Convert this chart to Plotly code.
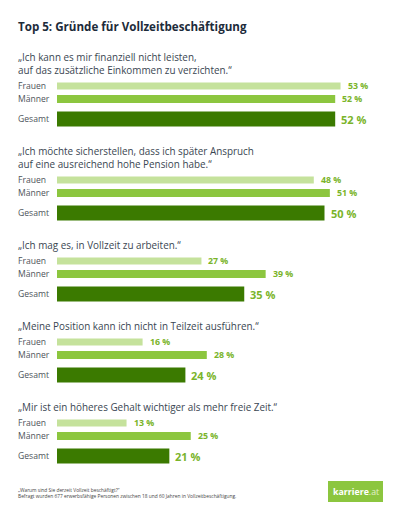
import plotly.graph_objects as go

# ---- data ----
questions = [
    "„Ich kann es mir finanziell nicht leisten,<br>auf das zusätzliche Einkommen zu verzichten.“",
    "„Ich möchte sicherstellen, dass ich später Anspruch<br>auf eine ausreichend hohe Pension habe.“",
    "„Ich mag es, in Vollzeit zu arbeiten.“",
    "„Meine Position kann ich nicht in Teilzeit ausführen.“",
    "„Mir ist ein höheres Gehalt wichtiger als mehr freie Zeit.“",
]
frauen = [53, 48, 27, 16, 13]
maenner = [52, 51, 39, 28, 25]
gesamt = [52, 50, 35, 24, 21]
series_names = ["Frauen", "Männer", "Gesamt"]
title = "Top 5: Gründe für Vollzeitbeschäftigung"
footer = ("„Warum sind Sie derzeit Vollzeit beschäftigt?“<br>"
          "Befragt wurden 677 erwerbsfähige Personen zwischen 18 und 60 Jahren in Vollzeitbeschäftigung.")

# ---- layout computation (pixel-based y axis) ----
W, H = 393, 512
FONT = "Open Sans"
c_f, c_m, c_g = "#c5e29c", "#8cc63f", "#3b7a00"
c_val = "#7ab42a"

title_y = []
yf, ym, yg = [], [], []
y = 56
for q in questions:
    n = q.count("<br>") + 1
    title_y.append(y)
    last = y + 13 * (n - 1)
    f = last + 17
    yf.append(f)
    ym.append(f + 13)
    yg.append(f + 33)
    y = f + 33 + 31

# x scale: 0 -> 57px, ~5.35 px per %
px_per = 5.35
x0 = -57 / px_per
x1 = x0 + W / px_per

fig = go.Figure()
for vals, ys, col, w in [(frauen, yf, c_f, 7), (maenner, ym, c_m, 8), (gesamt, yg, c_g, 15)]:
    fig.add_trace(go.Bar(
        x=vals, y=ys, orientation="h", marker=dict(color=col, line=dict(width=0)),
        width=w, hoverinfo="skip", showlegend=False,
    ))

ann = []
ann.append(dict(text=f"<b>{title}</b>", x=16 / W, y=26, xref="paper", yref="y",
                xanchor="left", yanchor="middle", showarrow=False,
                font=dict(family=FONT, size=11.6, color="#1d2b3a")))
for i, q in enumerate(questions):
    ann.append(dict(text=q, x=16 / W, y=title_y[i] - 8.5, xref="paper", yref="y",
                    xanchor="left", yanchor="top", showarrow=False, align="left",
                    font=dict(family=FONT, size=9.9, color="#3a4652")))
    for k, (ys, vals, fs, bold) in enumerate([(yf, frauen, 8.8, False),
                                              (ym, maenner, 8.8, False),
                                              (yg, gesamt, 11, True)]):
        ann.append(dict(text=series_names[k],
                        x=16 / W, y=ys[i], xref="paper", yref="y",
                        xanchor="left", yanchor="middle", showarrow=False,
                        font=dict(family=FONT, size=8.6, color="#4d5359")))
        ann.append(dict(text=f"<b>{vals[i]} %</b>", x=vals[i], y=ys[i], xref="x", yref="y",
                        xanchor="left", yanchor="middle", showarrow=False,
                        xshift=5 if not bold else 4,
                        font=dict(family=FONT, size=fs, color=c_val)))

ann.append(dict(text=footer, x=16 / W, y=493, xref="paper", yref="y",
                xanchor="left", yanchor="middle", showarrow=False, align="left",
                font=dict(family=FONT, size=4.85, color="#444")))
ann.append(dict(text="<b>karriere</b><span style='color:#e3f1cc'>.at</span>",
                x=355.5 / W, y=491.5, xref="paper", yref="y",
                xanchor="center", yanchor="middle", showarrow=False,
                font=dict(family=FONT, size=8.8, color="white")))

fig.update_layout(
    width=W, height=H, margin=dict(l=0, r=0, t=0, b=0),
    paper_bgcolor="white", plot_bgcolor="white",
    xaxis=dict(range=[x0, x1], visible=False, fixedrange=True),
    yaxis=dict(range=[H, 0], visible=False, fixedrange=True),
    barmode="overlay", annotations=ann,
    shapes=[dict(type="rect", xref="paper", yref="y", x0=328 / W, x1=383 / W,
                 y0=481, y1=502, fillcolor="#8cc63f", line=dict(width=0), layer="below")],
)
fig.write_html("out.html", config={"displayModeBar": False},
               post_script="document.body.style.margin='0px';document.body.style.overflow='hidden';")
